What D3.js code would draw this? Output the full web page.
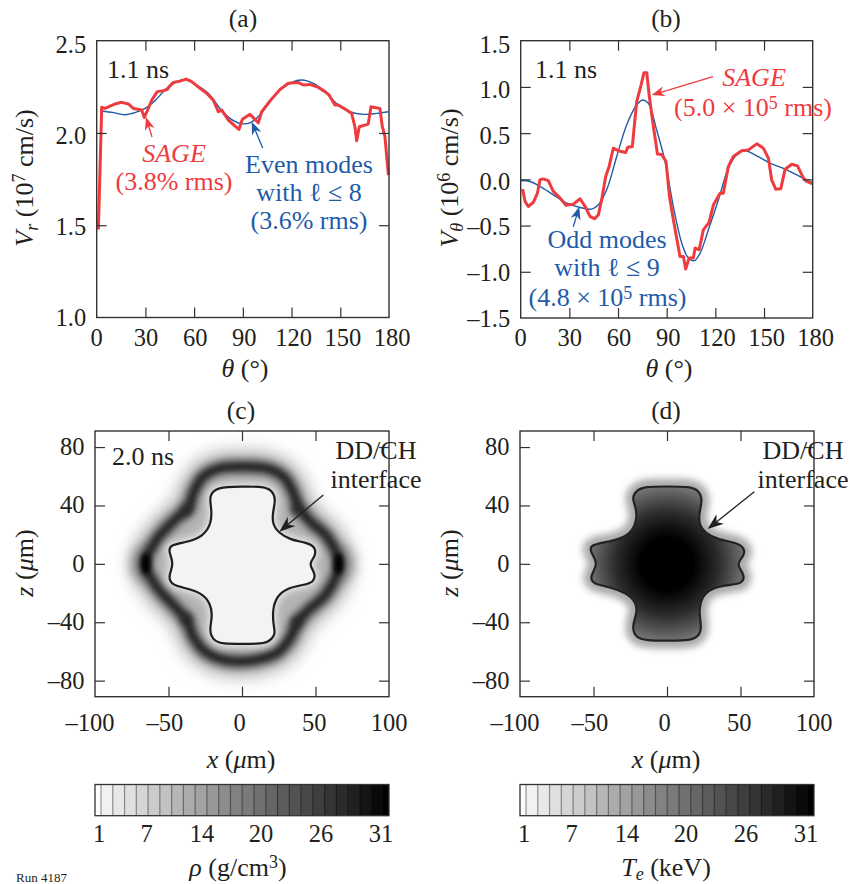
<!DOCTYPE html>
<html><head><meta charset="utf-8">
<script src="https://cdnjs.cloudflare.com/ajax/libs/d3/7.8.5/d3.min.js"></script>
<style>
html,body{margin:0;padding:0;background:#fff;overflow:hidden}
svg{display:block}
text{font-family:"Liberation Serif",serif;fill:#231f20;font-size:26px}
</style></head><body>
<script>
const sageA=[[1.03,1.477],[3.08,2.139],[5.13,2.133],[8.2,2.146],[12.3,2.16],[15.4,2.166],[19.5,2.157],[22.6,2.133],[27.7,2.124],[29.3,2.084],[31.8,2.133],[33.9,2.178],[37.3,2.224],[41,2.229],[43.5,2.236],[44.7,2.251],[47.2,2.274],[51.3,2.281],[55,2.292],[58.5,2.278],[63.6,2.242],[67.7,2.215],[71.8,2.178],[74.9,2.115],[77,2.124],[81.1,2.07],[85.2,2.037],[87.6,2.019],[89.7,2.074],[94.4,2.101],[99.5,2.055],[101.6,2.115],[107.1,2.178],[112.9,2.236],[118,2.269],[124.1,2.274],[127.2,2.26],[131.3,2.263],[136.5,2.247],[140.6,2.224],[143.2,2.205],[146.7,2.151],[148.8,2.151],[153.9,2.124],[157,2.106],[159,2.034],[160.1,1.958],[161.7,2.034],[167.2,2.048],[168.9,2.142],[174.4,2.133],[175.9,2.034],[177.5,1.98],[179.6,1.772]];
const fitA=[[3,2.119],[10.3,2.11],[17.4,2.099],[23.6,2.11],[29.8,2.133],[35.9,2.175],[43.1,2.242],[49.2,2.278],[55,2.29],[61.6,2.26],[68.7,2.215],[75.9,2.133],[82.1,2.079],[88.2,2.052],[94.4,2.055],[100.5,2.097],[106.7,2.169],[112.9,2.233],[120,2.274],[126.2,2.287],[133.4,2.269],[140.6,2.224],[147.7,2.16],[156,2.115],[164.2,2.101],[172.4,2.106],[179.6,2.115]];
const sageB=[[1.2,-.106],[2.7,-.24],[4.7,-.294],[7.8,-.25],[10.3,-.15],[11.9,-.005],[14,.005],[17,-.013],[20.1,-.13],[24.2,-.2],[27.9,-.28],[32.5,-.268],[36.6,-.21],[39.7,-.294],[42.7,-.4],[45.4,-.427],[47.9,-.384],[49.9,-.22],[52.4,.03],[54.5,.14],[57.1,.337],[60.2,.31],[64.7,.29],[66,.347],[68.8,.355],[71.5,.84],[74.2,1.02],[76,1.154],[77.7,1.154],[79.3,.895],[81.8,.571],[84.3,.275],[86.9,.27],[89.6,.193],[91.7,-.185],[94.1,-.438],[98.2,-.834],[100.3,-.834],[101.7,-.97],[103.8,-.852],[106.4,-.852],[107.5,-.744],[110,-.762],[112.6,-.546],[116.1,-.466],[118.8,-.275],[122.9,-.15],[124.9,-.15],[128,.139],[131.1,.247],[136.2,.31],[140.4,.319],[145.5,.384],[149.6,.337],[152.7,.229],[154.7,-.005],[157.2,-.106],[160.3,-.103],[163,.11],[167.1,.164],[170.6,.146],[174.3,.013],[176.3,-.023],[180,-.049]];
const fitB=[[0,-.013],[5.8,-.023],[11.9,-.077],[20.1,-.167],[28.4,-.258],[36.6,-.304],[43.8,-.322],[47.9,-.275],[53,-.113],[59.2,.247],[65.3,.589],[71.5,.805],[75.2,.859],[78.7,.823],[83.8,.535],[89,.193],[94.1,-.294],[99.3,-.69],[103.4,-.852],[107.1,-.88],[110.6,-.798],[115.7,-.546],[121.9,-.22],[128,.12],[133.2,.265],[138.3,.31],[145.5,.254],[153.7,.175],[164,.103],[172.2,.03],[180,-.035]];
const interfaceC=[[0,53],[14.5,53],[21,50],[23,43.7],[20.7,34.6],[20.9,26.7],[24.8,21.4],[32.7,16.4],[44.1,14.6],[50,11.5],[50,5],[45,0],[50,-6.4],[49,-12.6],[41.8,-14.4],[30.5,-16.6],[23.6,-22.3],[20.7,-31.4],[21.4,-42.8],[23,-48],[18,-54],[10,-54.8],[0,-54.8],[-12.7,-54.8],[-19,-53],[-22.5,-46.2],[-20,-36],[-21.4,-26.9],[-27.5,-20],[-37.7,-16.6],[-47.5,-14.8],[-50.5,-8.7],[-46,0],[-50,8.4],[-49,13],[-37.7,14.8],[-26.4,18.7],[-20.7,27.8],[-20.7,38],[-22.5,46.5],[-17.3,52.7]];
const interfaceD=[[0,53],[15.7,53],[22,50],[24.2,43.7],[21.8,34.6],[21.8,26.7],[26,21],[35,16.4],[46.4,14.9],[53,11],[52.4,5],[46.7,0],[53,-7.5],[51.5,-13.6],[41.8,-14.4],[30.5,-16.6],[23.6,-22.3],[21.4,-33.7],[24.2,-45.1],[19.6,-51.8],[10,-52.6],[0,-52.6],[-13.9,-52.6],[-21.5,-50.5],[-24,-42.9],[-20,-32.7],[-21.4,-25.9],[-27.5,-20],[-40,-15.5],[-50,-14],[-52.8,-8.7],[-46.3,0],[-52.4,8.4],[-52,13.2],[-40,15],[-26.4,18.7],[-20.7,27.8],[-20.7,38],[-24,44.9],[-21.2,50],[-15,53]];
const shellC=[[0,66.5],[19.1,64.7],[29.3,58.5],[35,48.3],[38.4,39.2],[46.4,28.9],[57.7,18.7],[65.7,0],[57.7,-20],[44.1,-32.6],[37.3,-40.5],[32.7,-50.8],[23.6,-61],[10,-65.6],[0,-66.7],[-12.7,-65.6],[-25.2,-59.9],[-33.2,-49.7],[-37.7,-38.3],[-45.7,-29.2],[-58.2,-15.5],[-65.5,0],[-58.2,16.4],[-44.5,31.2],[-36.6,38],[-33.2,48.3],[-26.4,59.7],[-15,65.4]];
const shellTips=[[65.7,0],[-65.5,0]];
const shellCorners=[[37.3,37],[-37.7,37],[-37.7,-38],[37.3,-40]];
const thetaTicks=[0,30,60,90,120,150,180];
const vrTicks=[1.0,1.5,2.0,2.5];
const vthetaTicks=[-1.5,-1,-.5,0,.5,1,1.5];
const xTicks=[-100,-50,0,50,100];
const zTicks=[-80,-40,0,40,80];
const barGrays=["#fdfdfd","#f1f1f1","#e8e8e8","#dfdfdf","#d5d5d5","#cbcbcb","#c2c2c2","#b6b6b6","#ababab","#a2a2a2","#989898","#8c8c8c","#828282","#7a7a7a","#707070","#666666","#5c5c5c","#525252","#484848","#3e3e3e","#343434","#2a2a2a","#202020","#141414","#0a0a0a","#000000"];
const barTicks=[1,7,14,20,26,31];

const RED="#ee3b3f",BLUE="#1f5ba8",INK="#231f20",FRAME="#333333";
const TICK=24.5,SUP=18;
const svg=d3.select("body").append("svg").attr("width",850).attr("height",884);
const defs=svg.append("defs");
function blur(id,s){defs.append("filter").attr("id",id).attr("filterUnits","userSpaceOnUse").attr("x",0).attr("y",400).attr("width",850).attr("height",320).append("feGaussianBlur").attr("stdDeviation",s);}
blur("b2",1.9);blur("b3",2.8);blur("b5",3.8);blur("b7",6);blur("b10",9);

function label(x,y,parts,opt={}){
  const t=svg.append("text").attr("x",x).attr("y",y).attr("text-anchor",opt.anchor||"middle");
  if(opt.fill)t.style("fill",opt.fill);
  if(opt.size)t.style("font-size",opt.size+"px");
  if(opt.rot)t.attr("transform",`rotate(-90 ${x} ${y})`);
  (Array.isArray(parts)?parts:[parts]).forEach(p=>{
    if(typeof p==="string"){t.append("tspan").text(p);return;}
    const s=t.append("tspan").text(p.t);
    if(p.i)s.style("font-style","italic");
    if(p.dy)s.attr("dy",p.dy);
    if(p.s)s.style("font-size",p.s+"px");
  });
  return t;
}
function arrow(x1,y1,x2,y2,color,w,hl=13,hw=5){
  const a=Math.atan2(y2-y1,x2-x1),c=Math.cos(a),s=Math.sin(a);
  svg.append("line").attr("x1",x1).attr("y1",y1).attr("x2",x2-c*hl*.6).attr("y2",y2-s*hl*.6).attr("stroke",color).attr("stroke-width",w);
  const bx=x2-c*hl,by=y2-s*hl,nx=x2-c*hl*.7,ny=y2-s*hl*.7;
  svg.append("path").attr("fill",color).attr("d",`M${x2},${y2}L${bx-s*hw},${by+c*hw}L${nx},${ny}L${bx+s*hw},${by-c*hw}Z`);
}
function frame(g,x,y,xVals,yVals,fmtX,fmtY,opt){
  const [x0,x1]=x.range(),[y0,y1]=y.range();
  const ax=(gen,tr,vals)=>{
    const s=g.append("g").attr("transform",tr).call(gen.tickValues(vals).tickSize(10).tickFormat(""));
    s.select(".domain").remove();
    s.selectAll("line").attr("stroke",FRAME).attr("stroke-width",1.2);
  };
  const xin=xVals.filter(v=>v!==x.domain()[0]&&v!==x.domain()[1]);
  const yin=yVals.filter(v=>v!==y.domain()[0]&&v!==y.domain()[1]);
  ax(d3.axisTop(x),`translate(0,${y0})`,xin);
  ax(d3.axisBottom(x),`translate(0,${y1})`,xin);
  ax(d3.axisRight(y),`translate(${x0},0)`,yin);
  ax(d3.axisLeft(y),`translate(${x1},0)`,yin);
  g.append("rect").attr("x",x0).attr("y",y1).attr("width",x1-x0).attr("height",y0-y1).attr("fill","none").attr("stroke",FRAME).attr("stroke-width",1.4);
  xVals.forEach(v=>label(x(v)+opt.dx(v),opt.xBase,fmtX(v),{size:TICK}));
  yVals.forEach(v=>label(x0-10.5,y(v)+opt.dy(v),fmtY(v),{anchor:"end",size:TICK}));
}
const minus=v=>v<0?"\u2013"+Math.abs(v):String(v);
const minusF=v=>(v<0?"\u2013":"")+Math.abs(v).toFixed(1);
const rawLine=(x,y)=>d3.line().x(d=>x(d[0])).y(d=>y(d[1]));
const smooth=(x,y)=>rawLine(x,y).curve(d3.curveCatmullRom.alpha(.5));
const curveStyle=(p,c,w)=>p.attr("fill","none").attr("stroke",c).attr("stroke-width",w).attr("stroke-linejoin","round");
const thetaOpt=(yd)=>({dx:v=>v/180*3,xBase:345.5,dy:yd});

/* (a) */
const xa=d3.scaleLinear().domain([0,180]).range([96.7,389]);
const ya=d3.scaleLinear().domain([1,2.5]).range([317.5,40.7]);
const ga=svg.append("g");
curveStyle(ga.append("path").attr("d",smooth(xa,ya)(fitA)),BLUE,1.4);
curveStyle(ga.append("path").attr("d",rawLine(xa,ya)(sageA)),RED,3);
frame(ga,xa,ya,thetaTicks,vrTicks,String,v=>v.toFixed(1),thetaOpt(v=>8.5+(v-1)/1.5*3.5));
label(243,27,"(a)",{size:25.5});
label(245,377,[{t:"\u03b8",i:1}," (\u00b0)"]);
label(33,178,[{t:"V",i:1},{t:"r",i:1,dy:5,s:SUP},{t:" (10",dy:-5},{t:"7",dy:-8,s:SUP},{t:" cm/s)",dy:8}],{rot:1});
label(107,78,"1.1 ns",{anchor:"start"});
label(174,162,[{t:"SAGE",i:1}],{fill:RED});
label(174,190,"(3.8% rms)",{fill:RED});
label(309,173,"Even modes",{fill:BLUE});
label(309,201,["with ",{t:"\u2113"}," \u2264 8"],{fill:BLUE});
label(309,229,"(3.6% rms)",{fill:BLUE});
arrow(152,137,146,117,RED,1.3);
arrow(262.7,148,251.7,121.7,BLUE,1.3);

/* (b) */
const xb=d3.scaleLinear().domain([0,180]).range([520.7,812.7]);
const yb=d3.scaleLinear().domain([-1.5,1.5]).range([318,40.7]);
const gb=svg.append("g");
curveStyle(gb.append("path").attr("d",smooth(xb,yb)(fitB)),BLUE,1.4);
curveStyle(gb.append("path").attr("d",rawLine(xb,yb)(sageB)),RED,3);
frame(gb,xb,yb,thetaTicks,vthetaTicks,String,minusF,thetaOpt(v=>8.5+(v+1.5)/3*3.5));
label(666,27,"(b)",{size:25.5});
label(669,377,[{t:"\u03b8",i:1}," (\u00b0)"]);
label(458,178,[{t:"V",i:1},{t:"\u03b8",i:1,dy:5,s:SUP},{t:" (10",dy:-5},{t:"6",dy:-8,s:SUP},{t:" cm/s)",dy:8}],{rot:1});
label(535,78,"1.1 ns",{anchor:"start"});
label(754,86,[{t:"SAGE",i:1}],{fill:RED});
label(753,115.5,["(5.0 \u00d7 10",{t:"5",dy:-7,s:SUP},{t:" rms)",dy:7}],{fill:RED});
label(607,248,"Odd modes",{fill:BLUE});
label(607,276,["with ",{t:"\u2113"}," \u2264 9"],{fill:BLUE});
label(607.5,305.5,["(4.8 \u00d7 10",{t:"5",dy:-7,s:SUP},{t:" rms)",dy:7}],{fill:BLUE});
arrow(713,76.7,651.7,95,RED,1.3);
arrow(573.3,226.7,579.3,206.7,BLUE,1.3);

/* (c) and (d) */
function field(x0,x1){
  return [d3.scaleLinear().domain([-100,100]).range([x0,x1]),d3.scaleLinear().domain([-91,91]).range([696.7,431])];
}
const fieldOpt={dx:v=>-(100-v)/200*5,xBase:731,dy:()=>8};
const [xc,yc]=field(95,389);
const closed=(x,y)=>d3.line().x(d=>x(d[0])).y(d=>y(d[1])).curve(d3.curveBasisClosed);
const ridge=(x,y)=>d3.line().x(d=>x(d[0])).y(d=>y(d[1])).curve(d3.curveCatmullRomClosed.alpha(.5));
const gc=svg.append("g");
const pc=closed(xc,yc),rc=ridge(xc,yc);
gc.append("path").attr("d",rc(shellC)).attr("fill","none").attr("stroke","#a0a0a0").attr("stroke-width",28).attr("filter","url(#b10)");
gc.selectAll("ellipse.halo").data(shellTips).join("ellipse").attr("class","halo").attr("cx",d=>xc(d[0])).attr("cy",d=>yc(d[1])).attr("rx",14).attr("ry",18).attr("fill","#888").attr("filter","url(#b7)");
gc.append("path").attr("d",rc(shellC)).attr("fill","#b4b4b4").attr("filter","url(#b3)");
gc.append("path").attr("d",rc(shellC)).attr("fill","none").attr("stroke","#5c5c5c").attr("stroke-width",15).attr("filter","url(#b5)");
gc.append("path").attr("d",rc(shellC)).attr("fill","none").attr("stroke","#2a2a2a").attr("stroke-width",7).attr("filter","url(#b2)");
gc.selectAll("circle.corner").data(shellCorners).join("circle").attr("class","corner").attr("cx",d=>xc(d[0])).attr("cy",d=>yc(d[1])).attr("r",6).attr("fill","#2a2a2a").attr("filter","url(#b5)");
gc.selectAll("ellipse.tip").data(shellTips).join("ellipse").attr("class","tip").attr("cx",d=>xc(d[0])).attr("cy",d=>yc(d[1])).attr("rx",5).attr("ry",11).attr("fill","#000").attr("filter","url(#b3)");
gc.append("path").attr("d",pc(interfaceC)).attr("fill","#e6e6e6").attr("stroke","#e6e6e6").attr("stroke-width",7).attr("filter","url(#b5)");
gc.append("path").attr("d",pc(interfaceC)).attr("fill","#f3f3f3").attr("stroke","#1e1e1e").attr("stroke-width",2.2);
frame(gc,xc,yc,xTicks,zTicks,minus,minus,fieldOpt);
label(241,419,"(c)",{size:25.5});
label(241,768,[{t:"x",i:1}," (",{t:"\u03bc",i:1},"m)"]);
label(33,563,[{t:"z",i:1}," (",{t:"\u03bc",i:1},"m)"],{rot:1});
label(112,465,"2.0 ns",{anchor:"start"});
label(376,459,"DD/CH");
label(376,488,"interface");
arrow(323.3,495,279.3,531.7,INK,1.3,16,6);

const [xd,yd]=field(520,814);
const gd=svg.append("g");
const pd=closed(xd,yd);
const grad=defs.append("radialGradient").attr("id","te").attr("gradientUnits","userSpaceOnUse").attr("cx",xd(0)).attr("cy",yd(0)).attr("r",xd(58)-xd(0));
[[0,"#000"],[.31,"#000"],[.43,"#111"],[.6,"#2b2b2b"],[.79,"#565656"],[.87,"#6a6a6a"],[1,"#8a8a8a"]].forEach(s=>grad.append("stop").attr("offset",s[0]).attr("stop-color",s[1]));
gd.append("path").attr("d",pd(interfaceD)).attr("fill","none").attr("stroke","#aaa").attr("stroke-width",16).attr("filter","url(#b5)");
gd.append("path").attr("d",pd(interfaceD)).attr("fill","url(#te)").attr("stroke","#222").attr("stroke-width",2.2);
frame(gd,xd,yd,xTicks,zTicks,minus,minus,fieldOpt);
label(666,419,"(d)",{size:25.5});
label(666,768,[{t:"x",i:1}," (",{t:"\u03bc",i:1},"m)"]);
label(458,563,[{t:"z",i:1}," (",{t:"\u03bc",i:1},"m)"],{rot:1});
label(803,459,"DD/CH");
label(803,488,"interface");
arrow(754.3,491.7,707.7,529,INK,1.3,16,6);

/* colour bars */
function colorbar(x0,x1,parts,cx){
  const idx=d3.range(barGrays.length);
  const edge=i=>i===0?x0:i===barGrays.length?x1:x0+6+(i-1)*11.77;
  const g=svg.append("g");
  g.selectAll("rect.c").data(idx).join("rect").attr("class","c").attr("x",edge).attr("y",784.5).attr("height",31.2)
    .attr("width",i=>edge(i+1)-edge(i)).attr("fill",i=>barGrays[i]);
  g.selectAll("line.c").data(idx.slice(1)).join("line").attr("class","c").attr("x1",edge).attr("x2",edge).attr("y1",784.5).attr("y2",815.7)
    .attr("stroke",i=>{const k=Math.round(d3.rgb(barGrays[i]).r*.62);return d3.rgb(k,k,k);}).attr("stroke-width",1.2);
  g.append("rect").attr("x",x0).attr("y",784.5).attr("width",x1-x0).attr("height",31.2).attr("fill","none").attr("stroke",FRAME).attr("stroke-width",1.3);
  const t=d3.scaleLinear().domain([1,14,20,26,31]).range([x0+4,x0+107,x0+166,x0+226,x0+286]);
  barTicks.forEach(v=>label(t(v),842,String(v),{size:TICK}));
  label(cx,876,parts);
}
colorbar(95,389,[{t:"\u03c1",i:1}," (g/cm",{t:"3",dy:-8,s:SUP},{t:")",dy:8}],238);
colorbar(520,814,[{t:"T",i:1},{t:"e",i:1,dy:4,s:SUP},{t:" (keV)",dy:-4}],666);
label(16,882,"Run 4187",{anchor:"start",size:13});
</script></body></html>
